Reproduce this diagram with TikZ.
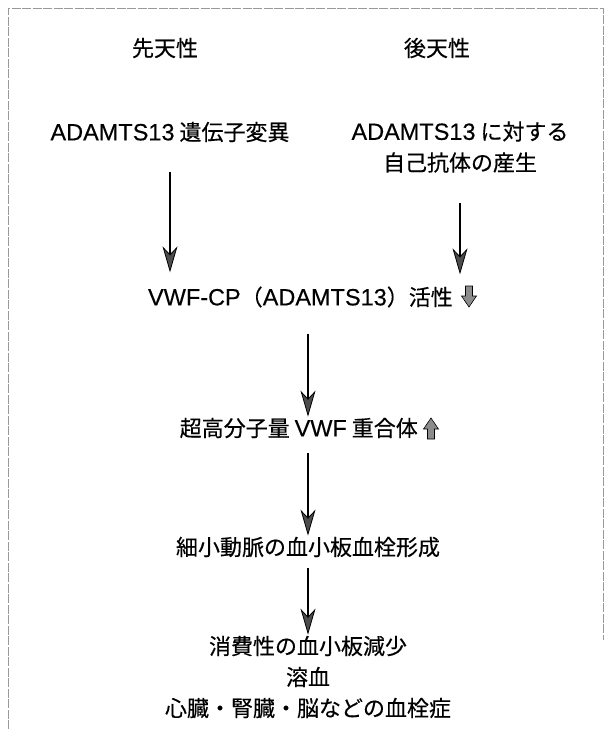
\documentclass[tikz,border=0pt]{standalone}
\usepackage{fontspec}
\setmainfont{Noto Sans CJK JP}[FakeBold=0.4]
\newfontfamily\latf{Liberation Sans}[FakeBold=0.3]
\newcommand{\lat}[1]{{\latf\fontsize{23.5}{31}\selectfont #1}}
\usetikzlibrary{arrows.meta}
\begin{document}
\begin{tikzpicture}[x=1pt,y=-1pt,
  txt/.style={font=\fontsize{22}{31}\selectfont, inner sep=0pt, align=center},
  flow/.style={line width=2pt, -{Stealth[length=26pt,width=15pt,inset=8pt,fill=black!70,line width=0.8pt]}},
  frame/.style={draw=black!40, line width=0.7pt, dash pattern=on 9pt off 1.5pt},
  icon/.style={draw=black, line width=0.6pt, fill=black!45}]
\useasboundingbox (0,0) rectangle (605,729);
\draw[frame] (8,729) -- (8,8) -- (603,8) -- (603,640);
\coordinate (col) at (308,0);
\node[txt] (cong) at (165,48) {先天性};
\node[txt] (acq) at (437,48) {後天性};
\node[txt] (gene) at (170,132) {\lat{ADAMTS13} 遺伝子変異};
\node[txt] (auto) at (460,147) {\lat{ADAMTS13} に対する\\自己抗体の産生};
\node[txt, anchor=east] (vwfcp) at (453,297) {\lat{VWF-CP}（\lat{ADAMTS13}）活性};
\node[txt, anchor=east] (poly) at (418,428) {超高分子量 \lat{VWF} 重合体};
\node[txt] (thromb) at (308,547) {細小動脈の血小板血栓形成};
\node[txt] (result) at (308,677) {消費性の血小板減少\\溶血\\心臓・腎臓・脳などの血栓症};
% arrows
\draw[flow, shorten <=30pt, shorten >=14pt] (gene.south) -- (gene.south |- vwfcp.north);
\draw[flow, shorten <=30pt, shorten >=12pt] (auto.south) -- (auto.south |- vwfcp.north);
\draw[flow, shorten <=26pt, shorten >=1pt] (vwfcp.south -| col) -- (poly.north -| col);
\draw[flow, shorten <=15pt, shorten >=1pt] (poly.south -| col) -- (thromb.north -| col);
\draw[flow, shorten <=11pt, shorten >=1pt] (thromb.south -| col) -- (result.north -| col);
% small down / up icons
\path (vwfcp.east) ++(16,0) coordinate (dn);
\draw[icon] (dn) ++(-3.5,-11) -- ++(7,0) -- ++(0,10) -- ++(4,0) -- ++(-7.5,11) -- ++(-7.5,-11) -- ++(4,0) -- cycle;
\path (poly.east) ++(13,0) coordinate (up);
\draw[icon] (up) ++(-3.5,11) -- ++(7,0) -- ++(0,-10) -- ++(4,0) -- ++(-7.5,-11) -- ++(-7.5,11) -- ++(4,0) -- cycle;
\end{tikzpicture}
\end{document}
